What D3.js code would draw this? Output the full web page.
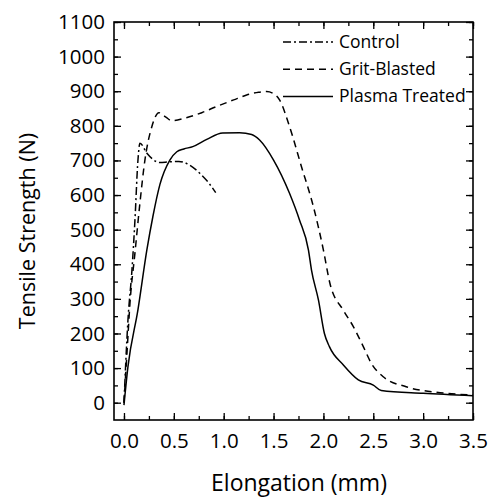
<!DOCTYPE html>
<html>
<head>
<meta charset="utf-8">
<script src="https://cdn.jsdelivr.net/npm/d3@7"></script>
<style>
  body { margin: 0; background: #fff; }
  svg text { font-family: "Open Sans", "Noto Sans", sans-serif; fill: #000; }
</style>
</head>
<body>
<script>
var w = 489, h = 499;
var margin = {left: 114, right: 16, top: 22, bottom: 79};

// elongation (mm) / tensile strength (N)
var controlX = [0, 0.04, 0.08, 0.11, 0.14, 0.16, 0.23, 0.36, 0.45, 0.55, 0.65, 0.76, 0.85, 0.92];
var controlY = [0, 239, 383, 527, 700, 750, 721, 694, 696, 697, 688, 663, 635, 607];

var gritX = [0, 0.03, 0.06, 0.11, 0.16, 0.21, 0.28, 0.35, 0.42, 0.48, 0.61, 0.78, 0.93, 1.1, 1.23, 1.35, 1.43, 1.5, 1.56, 1.66, 1.78, 1.9, 2.0, 2.065, 2.2, 2.3, 2.4, 2.48, 2.6, 2.83, 3.17, 3.5];
var gritY = [0, 143, 287, 432, 577, 701, 798, 838, 825, 815, 822, 838, 856, 875, 889, 897, 899, 893, 875, 798, 682, 566, 441, 345, 267, 220, 162, 114, 75, 46, 29, 22];

var plasmaX = [0, 0.04, 0.14, 0.23, 0.29, 0.36, 0.46, 0.53, 0.6, 0.69, 0.83, 0.99, 1.16, 1.28, 1.36, 1.5, 1.66, 1.76, 1.85, 1.88, 1.95, 2.01, 2.06, 2.2, 2.35, 2.5, 2.58, 3.0, 3.5];
var plasmaY = [-7, 104, 268, 442, 538, 630, 701, 725, 733, 740, 761, 779, 780, 775, 759, 701, 605, 528, 441, 384, 297, 200, 162, 109, 66, 51, 35, 27, 20];

var seriesNames = ["Control", "Grit-Blasted", "Plasma Treated"];
var dashes = ["8,3,2,3", "7,5", null];

var xTicks = [0, 0.5, 1.0, 1.5, 2.0, 2.5, 3.0, 3.5];
var yTicks = [0, 100, 200, 300, 400, 500, 600, 700, 800, 900, 1000, 1100];

var series = [
  controlX.map(function(d, i) { return {x: d, y: controlY[i]}; }),
  gritX.map(function(d, i) { return {x: d, y: gritY[i]}; }),
  plasmaX.map(function(d, i) { return {x: d, y: plasmaY[i]}; })
];

var svg = d3.select("body").append("svg")
    .attr("width", w)
    .attr("height", h);

var x = d3.scaleLinear()
  .domain([-0.1, 3.5])
  .range([margin.left, w - margin.right]);

var y = d3.scaleLinear()
  .domain([-50, 1100])
  .range([h - margin.bottom, margin.top]);

var xMinor = d3.range(0, 3.51, 0.25);
var yMinor = d3.range(0, 1101, 50);

// ticks point inward on all four sides
svg.append("g")
  .attr("transform", "translate(0," + y(-50) + ")")
  .call(d3.axisBottom(x).tickValues(xMinor).tickSize(-4).tickFormat(""));
svg.append("g")
  .attr("transform", "translate(0," + y(-50) + ")")
  .call(d3.axisBottom(x).tickValues(xTicks).tickSize(-7).tickPadding(13).tickFormat(d3.format(".1f")))
  .attr("class", "xlab");
svg.append("g")
  .attr("transform", "translate(0," + y(1100) + ")")
  .call(d3.axisTop(x).tickValues(xMinor).tickSize(-4).tickFormat(""));
svg.append("g")
  .attr("transform", "translate(0," + y(1100) + ")")
  .call(d3.axisTop(x).tickValues(xTicks).tickSize(-7).tickFormat(""));

svg.append("g")
  .attr("transform", "translate(" + x(-0.1) + ",0)")
  .call(d3.axisLeft(y).tickValues(yMinor).tickSize(-4).tickFormat(""));
svg.append("g")
  .attr("transform", "translate(" + x(-0.1) + ",0)")
  .call(d3.axisLeft(y).tickValues(yTicks).tickSize(-7).tickPadding(9).tickFormat(d3.format("d")))
  .attr("class", "ylab");
svg.append("g")
  .attr("transform", "translate(" + x(3.5) + ",0)")
  .call(d3.axisRight(y).tickValues(yMinor).tickSize(-4).tickFormat(""));
svg.append("g")
  .attr("transform", "translate(" + x(3.5) + ",0)")
  .call(d3.axisRight(y).tickValues(yTicks).tickSize(-7).tickFormat(""));

svg.selectAll(".domain").remove();
svg.selectAll(".tick line").attr("stroke", "#000").attr("stroke-width", 1.3);
svg.selectAll(".xlab text, .ylab text")
  .style("font-size", "20.5px")
  .style("font-family", "'Open Sans', sans-serif");

svg.append("rect")
  .attr("x", x(-0.1))
  .attr("y", y(1100))
  .attr("width", x(3.5) - x(-0.1))
  .attr("height", y(-50) - y(1100))
  .attr("fill", "none")
  .attr("stroke", "#000")
  .attr("stroke-width", 1.6);

var line = d3.line()
  .x(function(d) { return x(d.x); })
  .y(function(d) { return y(d.y); })
  .curve(d3.curveMonotoneX);

svg.selectAll(".curve")
  .data(series)
  .enter().append("path")
  .attr("class", "curve")
  .attr("d", line)
  .attr("fill", "none")
  .attr("stroke", "#000")
  .attr("stroke-width", 1.5)
  .attr("stroke-dasharray", function(d, i) { return dashes[i]; });

// legend
var legend = svg.append("g");
seriesNames.forEach(function(name, i) {
  var ly = 42 + i * 27.2;
  legend.append("line")
    .attr("x1", 283).attr("x2", 333)
    .attr("y1", ly).attr("y2", ly)
    .attr("stroke", "#000")
    .attr("stroke-width", 1.5)
    .attr("stroke-dasharray", dashes[i]);
  legend.append("text")
    .attr("x", 339).attr("y", ly + 6)
    .style("font-size", "17.5px")
    .text(name);
});

svg.append("text")
  .attr("transform", "translate(35,231) rotate(-90)")
  .attr("text-anchor", "middle")
  .style("font-size", "21.5px")
  .text("Tensile Strength (N)");

svg.append("text")
  .attr("x", 299)
  .attr("y", 491)
  .attr("text-anchor", "middle")
  .style("font-size", "23px")
  .text("Elongation (mm)");
</script>
</body>
</html>
